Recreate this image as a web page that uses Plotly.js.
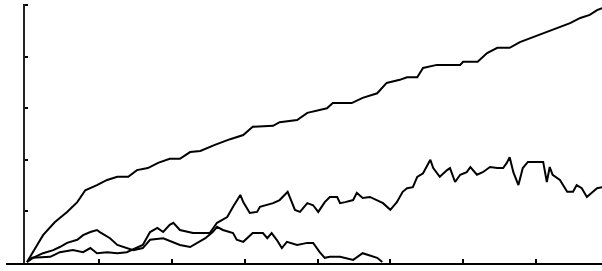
<!DOCTYPE html>
<html>
<head>
<meta charset="utf-8">
<script src="https://cdn.plot.ly/plotly-3.0.1.min.js"></script>
<style>html,body{margin:0;padding:0;background:#fff;}#chart{width:602px;height:271px;}</style>
</head>
<body>
<div id="chart"></div>
<script>
// Series A (top, steadily rising)
var xA = [0.01,0.08,0.23,0.39,0.56,0.70,0.81,0.97,1.11,1.25,1.40,1.52,1.67,1.81,1.97,2.11,2.25,2.39,2.59,2.80,2.98,3.11,3.39,3.48,3.72,3.86,4.13,4.21,4.47,4.62,4.82,4.95,5.13,5.23,5.37,5.45,5.64,5.96,6.00,6.20,6.33,6.47,6.64,6.78,6.96,7.15,7.29,7.47,7.61,7.74,7.84,7.91];
var yA = [0.02,0.19,0.54,0.79,0.99,1.18,1.41,1.51,1.61,1.67,1.67,1.80,1.84,1.94,2.02,2.02,2.15,2.17,2.29,2.40,2.48,2.64,2.66,2.73,2.77,2.91,3.00,3.10,3.10,3.20,3.29,3.49,3.55,3.60,3.60,3.78,3.84,3.84,3.90,3.90,4.07,4.17,4.17,4.28,4.38,4.48,4.55,4.65,4.75,4.81,4.90,4.94];

// Series B (middle, noisy, ends near 1.5)
var xB = [0.01,0.08,0.33,0.46,0.64,0.78,0.88,0.97,1.11,1.25,1.38,1.52,1.60,1.70,1.80,1.88,1.97,2.02,2.11,2.29,2.39,2.52,2.62,2.76,2.84,2.94,2.98,3.07,3.17,3.21,3.39,3.48,3.59,3.69,3.76,3.86,3.94,4.01,4.10,4.17,4.27,4.31,4.38,4.49,4.54,4.62,4.72,4.82,4.90,5.00,5.09,5.17,5.23,5.31,5.37,5.45,5.55,5.59,5.68,5.78,5.82,5.89,5.96,6.05,6.10,6.19,6.27,6.37,6.47,6.55,6.60,6.64,6.69,6.76,6.82,6.89,6.99,7.10,7.15,7.19,7.23,7.33,7.43,7.51,7.56,7.63,7.70,7.77,7.84,7.91];
var yB = [0.02,0.10,0.12,0.21,0.25,0.21,0.29,0.19,0.21,0.19,0.21,0.29,0.35,0.60,0.68,0.60,0.74,0.78,0.64,0.58,0.58,0.58,0.78,0.89,1.09,1.32,1.18,0.97,0.99,1.09,1.16,1.22,1.38,1.03,0.99,1.16,1.12,0.99,1.18,1.28,1.28,1.16,1.18,1.22,1.36,1.26,1.28,1.22,1.16,1.03,1.18,1.38,1.45,1.47,1.67,1.74,2.00,1.84,1.67,1.80,1.84,1.57,1.71,1.76,1.86,1.71,1.76,1.86,1.84,1.84,1.94,2.05,1.76,1.51,1.84,1.96,1.96,1.96,1.57,1.86,1.71,1.61,1.38,1.38,1.51,1.45,1.28,1.36,1.45,1.47];

// Series C (low hump, falls back to zero)
var xC = [0.01,0.09,0.23,0.37,0.46,0.56,0.70,0.78,0.88,0.97,1.01,1.15,1.25,1.47,1.60,1.70,1.88,2.02,2.11,2.25,2.34,2.46,2.56,2.62,2.70,2.84,2.89,2.98,3.11,3.25,3.31,3.37,3.44,3.51,3.58,3.72,3.86,3.94,4.03,4.10,4.17,4.31,4.49,4.62,4.82,4.89];
var yC = [0.02,0.10,0.19,0.25,0.31,0.39,0.45,0.54,0.60,0.64,0.60,0.48,0.35,0.25,0.29,0.45,0.48,0.41,0.35,0.31,0.39,0.48,0.60,0.70,0.64,0.58,0.45,0.41,0.58,0.58,0.48,0.58,0.45,0.29,0.41,0.35,0.39,0.39,0.21,0.10,0.12,0.12,0.06,0.19,0.10,0.02];

var yTicks = [0,1,2,3,4,5];
var xTicks = [1,2,3,4,5,6,7];

var lineStyle = {color:'#000', width:2, shape:'linear'};
var traces = [
  {x:xA, y:yA, type:'scatter', mode:'lines', line:lineStyle, hoverinfo:'skip', cliponaxis:false},
  {x:xB, y:yB, type:'scatter', mode:'lines', line:lineStyle, hoverinfo:'skip', cliponaxis:false},
  {x:xC, y:yC, type:'scatter', mode:'lines', line:lineStyle, hoverinfo:'skip', cliponaxis:false}
];

var layout = {
  width:602, height:271,
  margin:{l:6, r:0, t:4, b:8, pad:0},
  paper_bgcolor:'#fff', plot_bgcolor:'#fff',
  showlegend:false,
  xaxis:{
    range:[-0.279, 7.908], showgrid:false, zeroline:false,
    showline:true, linecolor:'#000', linewidth:2,
    tickmode:'array', tickvals:xTicks, ticks:'inside', ticklen:4, tickwidth:2, tickcolor:'#000',
    showticklabels:false, fixedrange:true
  },
  yaxis:{
    range:[0, 5.02], showgrid:false, zeroline:false,
    anchor:'free', position:0.031,
    showline:true, linecolor:'#222', linewidth:2,
    tickmode:'array', tickvals:yTicks, ticks:'inside', ticklen:3, tickwidth:2, tickcolor:'#000',
    showticklabels:false, fixedrange:true
  }
};

Plotly.newPlot('chart', traces, layout, {staticPlot:true, displayModeBar:false});
</script>
</body>
</html>
